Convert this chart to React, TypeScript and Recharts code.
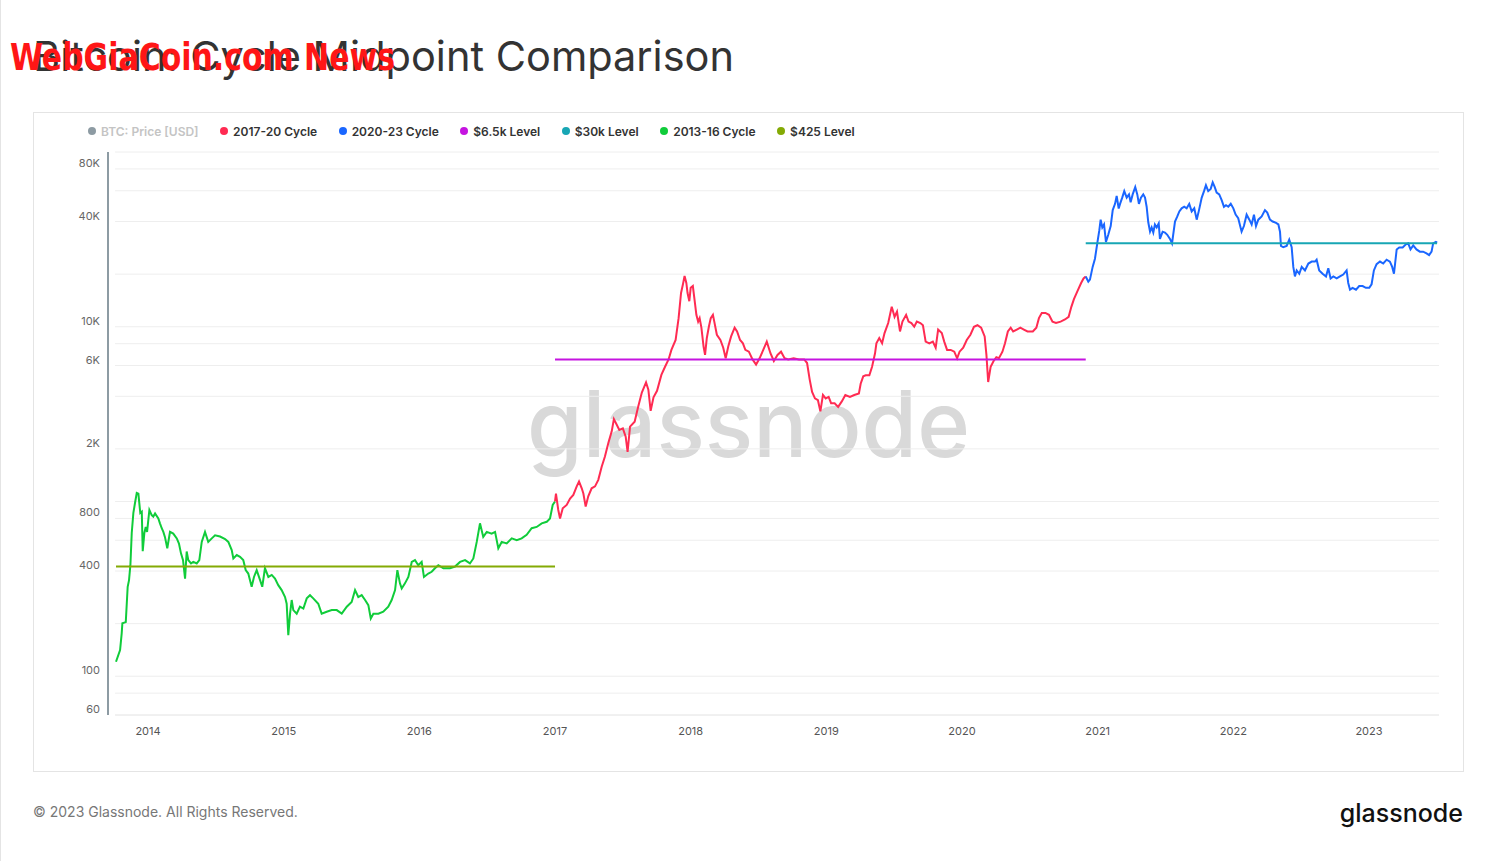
import React from 'react';
import { LineChart, Line, XAxis, YAxis, ReferenceLine } from 'recharts';

// decimal year, BTC price (USD)
const CYCLE_2013_16: [number, number][] = [
  [2013.764, 121], [2013.794, 141], [2013.806, 176], [2013.811, 201], [2013.836, 204],
  [2013.850, 325], [2013.860, 355], [2013.870, 432], [2013.880, 660], [2013.892, 860],
  [2013.904, 980], [2013.917, 1120], [2013.929, 1110], [2013.936, 976], [2013.943, 860],
  [2013.954, 875], [2013.961, 520], [2013.973, 660], [2013.983, 715], [2013.993, 670],
  [2014.010, 894], [2014.027, 836], [2014.039, 820], [2014.052, 855], [2014.076, 800],
  [2014.088, 750], [2014.101, 703], [2014.113, 670], [2014.125, 625], [2014.142, 540],
  [2014.162, 670], [2014.186, 655], [2014.212, 615], [2014.228, 575], [2014.243, 505],
  [2014.258, 462], [2014.273, 362], [2014.285, 517], [2014.297, 462], [2014.317, 442],
  [2014.334, 451], [2014.359, 442], [2014.378, 462], [2014.396, 587], [2014.420, 670],
  [2014.444, 587], [2014.470, 615], [2014.494, 640], [2014.531, 630], [2014.568, 610],
  [2014.592, 587], [2014.617, 527], [2014.629, 472], [2014.654, 494], [2014.678, 482],
  [2014.702, 462], [2014.720, 405], [2014.739, 387], [2014.764, 325], [2014.781, 370],
  [2014.801, 405], [2014.826, 355], [2014.842, 325], [2014.862, 415], [2014.887, 370],
  [2014.912, 380], [2014.936, 362], [2014.960, 332], [2014.985, 311], [2015.010, 284],
  [2015.022, 260], [2015.034, 172], [2015.047, 228], [2015.059, 273], [2015.071, 239],
  [2015.096, 228], [2015.120, 250], [2015.145, 244], [2015.170, 279], [2015.194, 291],
  [2015.218, 279], [2015.255, 260], [2015.280, 228], [2015.317, 234], [2015.354, 239],
  [2015.391, 239], [2015.428, 228], [2015.465, 250], [2015.501, 266], [2015.526, 311],
  [2015.550, 284], [2015.575, 291], [2015.600, 273], [2015.624, 255], [2015.642, 214],
  [2015.661, 228], [2015.698, 228], [2015.734, 234], [2015.771, 250], [2015.796, 273],
  [2015.821, 311], [2015.838, 405], [2015.857, 340], [2015.870, 318], [2015.894, 340],
  [2015.919, 370], [2015.944, 451], [2015.968, 462], [2015.992, 432], [2016.017, 451],
  [2016.034, 370], [2016.066, 387], [2016.091, 396], [2016.115, 415], [2016.140, 432],
  [2016.177, 415], [2016.226, 415], [2016.263, 424], [2016.300, 451], [2016.337, 462],
  [2016.373, 442], [2016.398, 472], [2016.423, 587], [2016.447, 750], [2016.471, 627],
  [2016.497, 670], [2016.533, 655], [2016.558, 670], [2016.582, 540], [2016.607, 587],
  [2016.644, 575], [2016.681, 615], [2016.718, 600], [2016.754, 615], [2016.791, 644],
  [2016.828, 703], [2016.865, 715], [2016.902, 750], [2016.939, 765], [2016.963, 800],
  [2016.983, 955], [2017.000, 1000],
];

const CYCLE_2017_20: [number, number][] = [
  [2017.000, 1000], [2017.007, 1110], [2017.024, 894], [2017.037, 800], [2017.057, 914],
  [2017.086, 955], [2017.111, 1040], [2017.135, 1090], [2017.160, 1220], [2017.177, 1300],
  [2017.197, 1190], [2017.209, 1110], [2017.226, 935], [2017.245, 1070], [2017.270, 1190],
  [2017.295, 1220], [2017.319, 1330], [2017.344, 1580], [2017.368, 1810], [2017.393, 2160],
  [2017.418, 2520], [2017.434, 2960], [2017.455, 2750], [2017.474, 2570], [2017.500, 2620],
  [2017.521, 2350], [2017.535, 1920], [2017.553, 2680], [2017.587, 2860], [2017.613, 3480],
  [2017.640, 4200], [2017.671, 4800], [2017.688, 4360], [2017.705, 3300], [2017.726, 3950],
  [2017.752, 4300], [2017.784, 5300], [2017.811, 5900], [2017.837, 6500], [2017.858, 7370],
  [2017.889, 8400], [2017.911, 11200], [2017.929, 15600], [2017.943, 17500], [2017.955, 19500],
  [2017.968, 17800], [2017.977, 15600], [2017.990, 14000], [2018.000, 16700], [2018.016, 17100],
  [2018.027, 14600], [2018.042, 11700], [2018.055, 10700], [2018.066, 11200], [2018.079, 9880],
  [2018.095, 7700], [2018.106, 6900], [2018.119, 8620], [2018.134, 10000], [2018.148, 11200],
  [2018.164, 11700], [2018.174, 10700], [2018.193, 9000], [2018.219, 8400], [2018.240, 7580],
  [2018.258, 6600], [2018.277, 7700], [2018.298, 8800], [2018.324, 9880], [2018.342, 9400],
  [2018.364, 8400], [2018.385, 8040], [2018.403, 7370], [2018.429, 7200], [2018.456, 6500],
  [2018.482, 6080], [2018.508, 6600], [2018.535, 7370], [2018.561, 8220], [2018.588, 7050],
  [2018.613, 6370], [2018.640, 6900], [2018.666, 7200], [2018.692, 6600], [2018.719, 6500],
  [2018.759, 6600], [2018.798, 6500], [2018.837, 6500], [2018.858, 6200], [2018.877, 5000],
  [2018.895, 4240], [2018.916, 3890], [2018.938, 3800], [2018.956, 3280], [2018.975, 4070],
  [2018.995, 3890], [2019.017, 3970], [2019.035, 3650], [2019.061, 3650], [2019.087, 3480],
  [2019.114, 3740], [2019.140, 4070], [2019.174, 3970], [2019.206, 4070], [2019.240, 4150],
  [2019.253, 4720], [2019.272, 5200], [2019.290, 5270], [2019.317, 5270], [2019.337, 5900],
  [2019.359, 7050], [2019.369, 8040], [2019.390, 8620], [2019.411, 8040], [2019.429, 9200],
  [2019.456, 10500], [2019.482, 13000], [2019.503, 11400], [2019.521, 12200], [2019.543, 9400],
  [2019.561, 10700], [2019.588, 11700], [2019.606, 10700], [2019.627, 10500], [2019.648, 10000],
  [2019.667, 10700], [2019.693, 10500], [2019.712, 10200], [2019.732, 8220], [2019.759, 8040],
  [2019.785, 8220], [2019.806, 7580], [2019.824, 9640], [2019.851, 9200], [2019.869, 8220],
  [2019.890, 7370], [2019.917, 7370], [2019.943, 7200], [2019.964, 6600], [2019.982, 7200],
  [2020.009, 7580], [2020.035, 8400], [2020.062, 9000], [2020.088, 10000], [2020.114, 10200],
  [2020.141, 9880], [2020.167, 8800], [2020.180, 6900], [2020.193, 4830], [2020.211, 5900],
  [2020.233, 6370], [2020.253, 6700], [2020.272, 6600], [2020.298, 7200], [2020.317, 8040],
  [2020.338, 9400], [2020.359, 9880], [2020.377, 9400], [2020.404, 9640], [2020.430, 9880],
  [2020.456, 9640], [2020.483, 9400], [2020.522, 9400], [2020.548, 9880], [2020.567, 11200],
  [2020.588, 12000], [2020.615, 12000], [2020.641, 11700], [2020.667, 10700], [2020.693, 10500],
  [2020.727, 10700], [2020.759, 11000], [2020.786, 11400], [2020.806, 13000], [2020.825, 14400],
  [2020.851, 16000], [2020.878, 17800], [2020.896, 18900], [2020.912, 19400],
];

const CYCLE_2020_23: [number, number][] = [
  [2020.912, 19400], [2020.931, 18100], [2020.943, 18600], [2020.963, 22000], [2020.980, 24500],
  [2020.997, 30000], [2021.012, 35600], [2021.022, 41000], [2021.034, 37000], [2021.047, 38500],
  [2021.061, 30600], [2021.078, 33600], [2021.096, 37700], [2021.111, 46500], [2021.128, 50500],
  [2021.140, 56000], [2021.155, 47500], [2021.165, 50500], [2021.181, 54800], [2021.196, 59700],
  [2021.214, 54800], [2021.231, 57200], [2021.243, 51600], [2021.258, 57200], [2021.277, 63000],
  [2021.292, 57200], [2021.304, 50500], [2021.319, 54800], [2021.336, 57200], [2021.349, 54800],
  [2021.361, 48600], [2021.373, 39600], [2021.386, 35000], [2021.398, 37000], [2021.410, 34600],
  [2021.422, 38500], [2021.435, 37000], [2021.450, 39000], [2021.459, 31800], [2021.479, 35000],
  [2021.496, 34600], [2021.513, 33600], [2021.533, 31800], [2021.548, 30000], [2021.570, 40000],
  [2021.587, 42800], [2021.602, 45700], [2021.619, 47600], [2021.638, 48600], [2021.656, 47600],
  [2021.675, 50500], [2021.693, 45700], [2021.712, 47600], [2021.730, 41000], [2021.747, 46500],
  [2021.767, 54800], [2021.784, 59700], [2021.798, 64500], [2021.815, 59700], [2021.833, 61500],
  [2021.848, 67000], [2021.863, 63000], [2021.877, 58500], [2021.896, 57200], [2021.914, 53000],
  [2021.931, 48600], [2021.946, 49600], [2021.963, 48600], [2021.981, 50500], [2022.000, 47600],
  [2022.017, 43800], [2022.036, 41800], [2022.061, 35000], [2022.078, 37700], [2022.098, 43800],
  [2022.118, 41000], [2022.135, 38500], [2022.152, 43800], [2022.167, 37700], [2022.184, 41000],
  [2022.209, 42800], [2022.233, 46500], [2022.250, 45000], [2022.270, 41000], [2022.290, 40000],
  [2022.315, 39300], [2022.332, 38500], [2022.344, 35000], [2022.351, 29000], [2022.368, 28500],
  [2022.393, 29000], [2022.412, 31500], [2022.430, 28500], [2022.442, 22000], [2022.454, 19400],
  [2022.467, 21000], [2022.486, 20100], [2022.504, 22000], [2022.528, 21000], [2022.553, 23000],
  [2022.578, 23600], [2022.602, 23600], [2022.614, 24200], [2022.633, 21000], [2022.658, 20100],
  [2022.683, 19400], [2022.700, 21600], [2022.717, 18900], [2022.737, 19400], [2022.762, 18900],
  [2022.786, 19400], [2022.810, 19900], [2022.835, 21000], [2022.847, 17800], [2022.860, 16300],
  [2022.879, 16700], [2022.904, 16300], [2022.928, 17100], [2022.953, 17100], [2022.977, 16700],
  [2023.002, 16700], [2023.019, 17500], [2023.036, 21000], [2023.056, 22800], [2023.081, 23600],
  [2023.105, 23000], [2023.130, 24200], [2023.154, 23600], [2023.171, 22000], [2023.184, 20100],
  [2023.204, 27700], [2023.223, 28400], [2023.248, 28400], [2023.272, 29600], [2023.289, 30000],
  [2023.306, 27700], [2023.326, 29200], [2023.350, 27700], [2023.375, 26900], [2023.399, 26900],
  [2023.424, 26300], [2023.443, 25700], [2023.461, 26900], [2023.473, 30000], [2023.493, 30600],
  [2023.502, 30300],
];

const LEVEL_425: [number, number][] = [[2013.764, 425], [2017.0, 425]];
const LEVEL_6500: [number, number][] = [[2017.0, 6500], [2020.912, 6500]];
const LEVEL_30K: [number, number][] = [[2020.912, 30000], [2023.502, 30000]];

const YEARS = [2014, 2015, 2016, 2017, 2018, 2019, 2020, 2021, 2022, 2023];
const Y_TICKS = [60, 100, 400, 800, 2000, 6000, 10000, 40000, 80000];
const GRID_VALUES = [100000, 80000, 60000, 40000, 20000, 10000, 8000, 6000, 4000, 2000, 1000, 800, 600, 400, 200, 100, 80];

const X_DOMAIN: [number, number] = [2013.705, 2023.516];
const GRID_START = 2013.757;

const LEGEND = [
  { label: 'BTC: Price [USD]', color: '#8d9ba3', off: true },
  { label: '2017-20 Cycle', color: '#ff2b52' },
  { label: '2020-23 Cycle', color: '#1a66ff' },
  { label: '$6.5k Level', color: '#c514e0' },
  { label: '$30k Level', color: '#17a6b4' },
  { label: '2013-16 Cycle', color: '#10cc3a' },
  { label: '$425 Level', color: '#84aa05' },
];

const FONT = 'Inter, "Noto Sans", sans-serif';

const toRows = (arr: [number, number][]) => arr.map(([t, v]) => ({ t, v }));

const fmtY = (v: number) => (v >= 1000 ? `${v / 1000}K` : `${v}`);

const YTick = ({ x, y, payload }: any) => (
  <text x={x - 8} y={y - 6} textAnchor="end" dominantBaseline="central"
    fontSize={11} fill="#666" fontFamily={FONT}>
    {fmtY(payload.value)}
  </text>
);

const XTick = ({ x, y, payload }: any) => (
  <text x={x} y={y + 16} textAnchor="middle" dominantBaseline="central"
    fontSize={11} fill="#555" fontFamily={FONT}>
    {payload.value}
  </text>
);

export default function App() {
  return (
    <div style={{ position: 'absolute', left: 0, top: 0, width: 1495, height: 861, background: '#fff', overflow: 'hidden', fontFamily: FONT }}>
      <div style={{ position: 'absolute', left: 0, top: 0, width: 1, height: 861, background: '#e4e4e4' }} />
      <div style={{ position: 'absolute', left: 33, top: 112, width: 1431, height: 660, border: '1px solid #e4e4e4', boxSizing: 'border-box' }} />

      {/* background watermark */}
      <svg width={1495} height={861} style={{ position: 'absolute', left: 0, top: 0 }}>
        <text x={527} y={457} fontSize={92} fontWeight={500} fill="#d9d9d9" fontFamily={FONT}
          textLength={443} lengthAdjust="spacingAndGlyphs">glassnode</text>
      </svg>

      <div style={{ position: 'absolute', left: 0, top: 0 }}>
        <LineChart width={1495} height={861} margin={{ top: 152, right: 56, bottom: 116, left: 48 }}>
          <XAxis type="number" dataKey="t" domain={X_DOMAIN} ticks={YEARS} allowDataOverflow
            height={30} axisLine={false} tickLine={false} tickSize={0} tickMargin={0} tick={<XTick />} />
          <YAxis type="number" scale="log" domain={[60, 100000]} ticks={Y_TICKS} allowDataOverflow
            width={60} axisLine={{ stroke: '#8d9ba3', strokeWidth: 2 }} tickLine={false}
            tickSize={0} tickMargin={0} tick={<YTick />} />
          {GRID_VALUES.map(g => (
            <ReferenceLine key={g} segment={[{ x: GRID_START, y: g }, { x: X_DOMAIN[1], y: g }]}
              stroke="#eeeeee" strokeWidth={1} ifOverflow="visible" />
          ))}
          <ReferenceLine segment={[{ x: GRID_START, y: 60 }, { x: X_DOMAIN[1], y: 60 }]}
            stroke="#e2e2e2" strokeWidth={1} ifOverflow="visible" />

          <Line data={toRows(CYCLE_2013_16)} dataKey="v" type="linear" stroke="#10cc3a" strokeWidth={2} dot={false} isAnimationActive={false} />
          <Line data={toRows(CYCLE_2017_20)} dataKey="v" type="linear" stroke="#ff2b52" strokeWidth={2} dot={false} isAnimationActive={false} />
          <Line data={toRows(CYCLE_2020_23)} dataKey="v" type="linear" stroke="#1a66ff" strokeWidth={2} dot={false} isAnimationActive={false} />
          <Line data={toRows(LEVEL_425)} dataKey="v" type="linear" stroke="#84aa05" strokeWidth={2} dot={false} isAnimationActive={false} />
          <Line data={toRows(LEVEL_6500)} dataKey="v" type="linear" stroke="#c514e0" strokeWidth={2} dot={false} isAnimationActive={false} />
          <Line data={toRows(LEVEL_30K)} dataKey="v" type="linear" stroke="#17a6b4" strokeWidth={2} dot={false} isAnimationActive={false} />
        </LineChart>
      </div>

      {/* legend */}
      <div style={{ position: 'absolute', left: 88, top: 124, height: 14, display: 'flex', alignItems: 'center', gap: 21.5 }}>
        {LEGEND.map(l => (
          <div key={l.label} style={{ display: 'flex', alignItems: 'center' }}>
            <div style={{ width: 8, height: 8, borderRadius: 4, background: l.color, marginRight: 5 }} />
            <span style={{ fontSize: 12, fontWeight: 600, color: l.off ? '#c4c4c4' : '#333', whiteSpace: 'nowrap' }}>{l.label}</span>
          </div>
        ))}
      </div>

      {/* texts on top */}
      <svg width={1495} height={861} style={{ position: 'absolute', left: 0, top: 0, pointerEvents: 'none' }}>
        <text x={33} y={71} fontSize={41.5} fill="#333" fontFamily={FONT}>Bitcoin: Cycle Midpoint Comparison</text>
        <text x={10} y={70} fontSize={37} fontWeight={700} fill="#ff1616"
          fontFamily={'"DejaVu Sans Condensed", "DejaVu Sans", sans-serif'}
          textLength={385} lengthAdjust="spacingAndGlyphs">WebGiaCoin.com News</text>
        <text x={33} y={817} fontSize={14} fill="#777" fontFamily={FONT}>© 2023 Glassnode. All Rights Reserved.</text>
        <text x={1463} y={822} fontSize={25} fontWeight={500} fill="#111" textAnchor="end" fontFamily={FONT}>glassnode</text>
      </svg>
    </div>
  );
}
